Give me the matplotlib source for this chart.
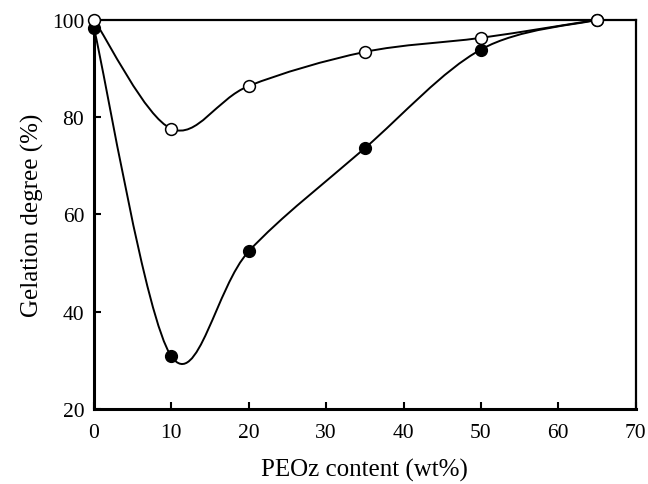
import numpy as np
import matplotlib.pyplot as plt
from matplotlib.path import Path
from matplotlib.patches import PathPatch

# PEOz content (wt%)
x_open = [0, 10, 20, 35, 50, 65]
y_open = [100, 77.6, 86.4, 93.4, 96.3, 100]
x_filled = [0, 10, 20, 35, 50, 65]
y_filled = [98.3, 30.8, 52.4, 73.6, 93.9, 100]

XTICKS = [0, 10, 20, 30, 40, 50, 60, 70]
YTICKS = [20, 40, 60, 80, 100]


def smooth_path(xs, ys):
    """Excel-like smoothed line: cubic Bezier segments through the points."""
    p = np.column_stack([xs, ys]).astype(float)
    n = len(p)
    verts = [p[0]]
    codes = [Path.MOVETO]
    for i in range(n - 1):
        p0 = p[i - 1] if i > 0 else p[i]
        p3 = p[i + 2] if i + 2 < n else p[i + 1]
        c1 = p[i] + (p[i + 1] - p0) / 6.0
        c2 = p[i + 1] - (p3 - p[i]) / 6.0
        verts += [c1, c2, p[i + 1]]
        codes += [Path.CURVE4] * 3
    return Path(verts, codes)


plt.rcParams['font.family'] = ['Liberation Serif', 'DejaVu Serif']

fig = plt.figure(figsize=(6.48, 4.85), dpi=100)
ax = fig.add_axes([0.145, 0.155, 0.836, 0.802])

for xs, ys in [(x_filled, y_filled), (x_open, y_open)]:
    ax.add_patch(PathPatch(smooth_path(xs, ys), facecolor='none',
                           edgecolor='black', lw=1.4, zorder=2, clip_on=False))

ax.plot(x_filled, y_filled, 'o', ms=8.5, mfc='black', mec='black', mew=1,
        zorder=3, clip_on=False)
ax.plot(x_open, y_open, 'o', ms=8.5, mfc='white', mec='black', mew=1.1,
        zorder=4, clip_on=False)

ax.set_xlim(0, 70)
ax.set_ylim(20, 100)
ax.set_xticks(XTICKS)
ax.set_yticks(YTICKS)
ax.tick_params(direction='in', length=5, width=1.5, labelsize=15.5,
               top=False, right=False)
ax.tick_params(axis='x', pad=10)
ax.tick_params(axis='y', pad=7)
for side in ['left', 'bottom']:
    ax.spines[side].set_linewidth(2.2)
for side in ['top', 'right']:
    ax.spines[side].set_linewidth(1.6)

ax.set_xlabel('PEOz content (wt%)', fontsize=18, labelpad=12)
ax.set_ylabel('Gelation degree (%)', fontsize=18, labelpad=6)

fig.savefig('out.png', dpi=100)
